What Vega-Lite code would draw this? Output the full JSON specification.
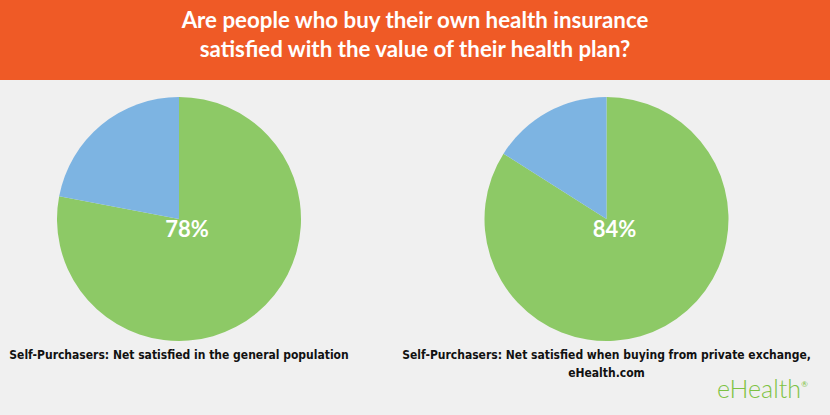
{
  "$schema": "https://vega.github.io/schema/vega-lite/v6.json",
  "padding": 0,
  "spacing": 0,
  "background": "#f0f0f0",
  "config": {"view": {"stroke": null}},
  "datasets": {
    "survey": [
      {"survey": "general", "status": "Satisfied", "share": 0.78},
      {"survey": "general", "status": "Not satisfied", "share": 0.22},
      {"survey": "exchange", "status": "Satisfied", "share": 0.84},
      {"survey": "exchange", "status": "Not satisfied", "share": 0.16}
    ],
    "captions": [
      {"survey": "general", "caption": "Self-Purchasers: Net satisfied in the general population"},
      {"survey": "exchange", "caption": "Self-Purchasers: Net satisfied when buying from private exchange,\neHealth.com"}
    ],
    "header": [
      {"title": "Are people who buy their own health insurance\nsatisfied with the value of their health plan?"}
    ],
    "brand": [{"name": "eHealth", "mark": "®"}]
  },
  "vconcat": [
    {
      "width": 830,
      "height": 80,
      "view": {"fill": "#EF5A26", "stroke": null},
      "data": {"name": "header"},
      "mark": {"type": "text", "color": "white", "font": "Lato", "fontWeight": "bold", "fontSize": 22.3, "lineBreak": "\n", "lineHeight": 29, "align": "center", "baseline": "alphabetic", "dy": -12},
      "encoding": {"text": {"field": "title", "type": "nominal"}}
    },
    {
      "width": 830,
      "height": 335,
      "layer": [
        {
          "data": {"name": "survey"},
          "transform": [
            {"stack": "share", "groupby": ["survey"], "sort": [{"field": "status", "order": "descending"}], "as": ["s0", "s1"]}
          ],
          "mark": {"type": "arc", "radius": 122, "yOffset": -28.5},
          "encoding": {
            "x": {"field": "survey", "type": "nominal", "scale": {"type": "point", "domain": ["general", "exchange"], "range": [179, 606.5], "padding": 0}, "axis": null},
            "theta": {"field": "s0", "type": "quantitative", "scale": {"domain": [0, 1]}},
            "theta2": {"field": "s1"},
            "color": {"field": "status", "type": "nominal", "scale": {"domain": ["Satisfied", "Not satisfied"], "range": ["#8DC966", "#7DB4E2"]}, "legend": null}
          }
        },
        {
          "data": {"name": "survey"},
          "transform": [{"filter": "datum.status === 'Satisfied'"}],
          "mark": {"type": "text", "color": "white", "font": "Lato", "fontWeight": "bold", "fontSize": 22, "align": "center", "baseline": "middle", "yOffset": -17.5, "dx": 8},
          "encoding": {
            "x": {"field": "survey", "type": "nominal"},
            "text": {"field": "share", "type": "quantitative", "format": ".0%"}
          }
        },
        {
          "data": {"name": "captions"},
          "mark": {"type": "text", "color": "#111111", "font": "DejaVu Sans Condensed", "fontWeight": "bold", "fontSize": 12, "align": "center", "baseline": "alphabetic", "lineBreak": "\n", "lineHeight": 18, "yOffset": 111.5},
          "encoding": {
            "x": {"field": "survey", "type": "nominal"},
            "text": {"field": "caption", "type": "nominal"}
          }
        },
        {
          "data": {"name": "brand"},
          "mark": {"type": "text", "color": "#7DC243", "font": "Lato", "fontWeight": 300, "fontSize": 25, "align": "right", "baseline": "alphabetic", "x": {"expr": "width"}, "dx": -29, "yOffset": 150.5},
          "encoding": {"text": {"field": "name", "type": "nominal"}}
        },
        {
          "data": {"name": "brand"},
          "mark": {"type": "text", "color": "#7DC243", "font": "Lato", "fontSize": 8, "align": "right", "baseline": "alphabetic", "x": {"expr": "width"}, "dx": -22, "yOffset": 139},
          "encoding": {"text": {"field": "mark", "type": "nominal"}}
        }
      ]
    }
  ]
}
